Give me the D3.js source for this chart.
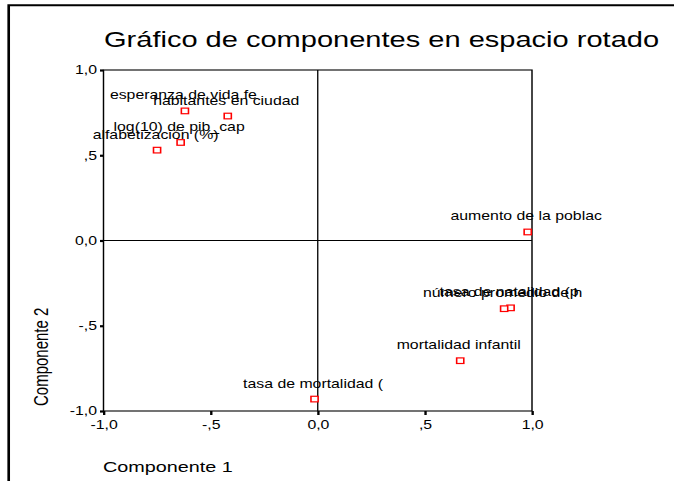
<!DOCTYPE html>
<html>
<head>
<meta charset="utf-8">
<script src="https://cdn.jsdelivr.net/npm/d3@7"></script>
<style>
  html, body { margin: 0; padding: 0; background: #fff; }
  svg { display: block; }
  text { font-family: "Liberation Sans", Arial, sans-serif; fill: #000; }
</style>
</head>
<body>
<div id="chart"></div>
<script>
// Rotated component loadings (Componente 1, Componente 2)
const variables = [
  "esperanza de vida fe",
  "habitantes en ciudad",
  "log(10) de pib_cap",
  "alfabetización (%)",
  "aumento de la poblac",
  "tasa de natalidad (p",
  "número promedio de h",
  "mortalidad infantil",
  "tasa de mortalidad ("
];
const comp1 = [-0.62, -0.42, -0.64, -0.75, 0.98, 0.90, 0.87, 0.665, -0.015];
const comp2 = [0.76, 0.73, 0.575, 0.53, 0.05, -0.395, -0.40, -0.705, -0.93];

const tickValues = [-1, -0.5, 0, 0.5, 1];
const tickLabels = ["-1,0", "-,5", "0,0", ",5", "1,0"];

const W = 674, H = 481;
const SX = 1.32; // horizontal stretch of the whole drawing

const svg = d3.select("#chart").append("svg")
  .attr("width", W).attr("height", H);
svg.append("rect").attr("width", W).attr("height", H).attr("fill", "#fff");

const g = svg.append("g").attr("transform", `scale(${SX},1)`);

const x = d3.scaleLinear().domain([-1, 1]).range([103.5 / SX, 532 / SX]);
const y = d3.scaleLinear().domain([-1, 1]).range([411, 70]);

// outer frame (left and top edges)
g.append("path")
  .attr("d", `M${8.7 / SX},${H} V5.2 H${W / SX}`)
  .attr("fill", "none").attr("stroke", "#000").attr("stroke-width", 2);

// title
g.append("text")
  .attr("x", 104 / SX).attr("y", 47)
  .attr("font-size", 22)
  .text("Gráfico de componentes en espacio rotado");

// plot box
g.append("rect")
  .attr("x", x(-1)).attr("y", y(1))
  .attr("width", x(1) - x(-1)).attr("height", y(-1) - y(1))
  .attr("fill", "none").attr("stroke", "#000").attr("stroke-width", 1.1);

// reference lines at zero
g.append("line")
  .attr("x1", x(0)).attr("x2", x(0)).attr("y1", y(1)).attr("y2", y(-1))
  .attr("stroke", "#000").attr("stroke-width", 1);
g.append("line")
  .attr("x1", x(-1)).attr("x2", x(1)).attr("y1", y(0)).attr("y2", y(0))
  .attr("stroke", "#000").attr("stroke-width", 1);

const fmt = v => tickLabels[tickValues.indexOf(v)];

// y axis
const yAxis = g.append("g")
  .attr("transform", `translate(${x(-1)},0)`)
  .call(d3.axisLeft(y).tickValues(tickValues).tickFormat(fmt)
    .tickSize(3.5 / SX).tickPadding(3 / SX));
yAxis.select(".domain").remove();
yAxis.selectAll(".tick line").attr("stroke", "#000").attr("stroke-width", 2.2);
yAxis.selectAll(".tick text")
  .attr("font-size", 12).attr("fill", "#000")
  .style("font-family", "'Liberation Sans', Arial, sans-serif");

// x axis
const xAxis = g.append("g")
  .attr("transform", `translate(0,${y(-1)})`)
  .call(d3.axisBottom(x).tickValues(tickValues).tickFormat(fmt)
    .tickSize(4).tickPadding(5.5));
xAxis.select(".domain").remove();
xAxis.selectAll(".tick line").attr("stroke", "#000").attr("stroke-width", 1.8);
xAxis.selectAll(".tick text")
  .attr("font-size", 12).attr("fill", "#000")
  .style("font-family", "'Liberation Sans', Arial, sans-serif");

// axis titles
g.append("text")
  .attr("x", 103 / SX).attr("y", 472)
  .attr("font-size", 15)
  .text("Componente 1");
g.append("text")
  .attr("transform", `translate(${48 / SX},406) rotate(-90)`)
  .attr("font-size", 15)
  .text("Componente 2");

// points and labels
const pts = variables.map((name, i) => ({ name, c1: comp1[i], c2: comp2[i] }));

g.selectAll("text.lbl").data(pts).enter().append("text")
  .attr("class", "lbl")
  .attr("x", d => x(d.c1) - 1.5 / SX)
  .attr("y", d => y(d.c2) - 11.5)
  .attr("text-anchor", "middle")
  .attr("font-size", 12)
  .text(d => d.name);

g.selectAll("rect.pt").data(pts).enter().append("rect")
  .attr("class", "pt")
  .attr("x", d => x(d.c1) - 2.7)
  .attr("y", d => y(d.c2) - 2.8)
  .attr("width", 5.4).attr("height", 5.6)
  .attr("fill", "#fff")
  .attr("stroke", "#ff0000").attr("stroke-width", 1.2);
</script>
</body>
</html>
